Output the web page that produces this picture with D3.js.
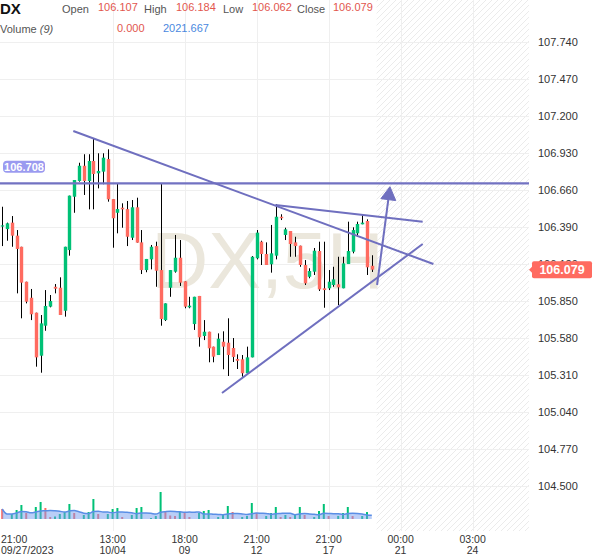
<!DOCTYPE html>
<html>
<head>
<meta charset="utf-8">
<script src="https://cdn.jsdelivr.net/npm/d3@7"></script>
<style>
  body { margin: 0; background: #fff; }
  svg { display: block; font-family: "Liberation Sans", Arial, sans-serif; }
</style>
</head>
<body>
<svg width="600" height="558"></svg>
<script>
// ---- data (5H candles, DX) ----
var symbol = "DX";
var period = "5H";

var opens = [106.397, 106.375, 106.422, 106.327, 106.246, 105.991, 105.874, 105.765, 105.451, 105.670,
  105.809, 105.954, 105.947, 105.779, 106.222, 106.611, 106.726, 106.837, 106.726, 106.872,
  106.782, 106.794, 106.886, 106.594, 106.494, 106.531, 106.521, 106.312, 106.534, 106.278,
  106.076, 106.154, 106.251, 106.076, 105.711, 105.947, 106.064, 106.166, 105.994, 105.804,
  105.682, 105.887, 105.595, 105.626, 105.517, 105.456, 105.553, 105.546, 105.507, 105.427,
  105.425, 105.323, 105.439, 106.162, 106.283, 106.193, 106.118, 106.181, 106.465, 106.332,
  106.361, 106.278, 106.254, 106.113, 106.027, 106.064, 106.215, 105.943, 105.943, 105.967,
  105.972, 105.943, 106.120, 106.210, 106.344, 106.410, 106.434, 106.107];
var highs = [106.538, 106.422, 106.470, 106.368, 106.246, 105.991, 105.938, 105.765, 105.748, 105.930,
  105.894, 105.974, 106.023, 106.246, 106.619, 106.733, 106.859, 106.921, 106.921, 107.037,
  106.928, 106.928, 106.957, 106.594, 106.709, 106.563, 106.580, 106.587, 106.604, 106.368,
  106.157, 106.259, 106.283, 106.704, 105.833, 106.076, 106.332, 106.295, 105.994, 105.881,
  105.881, 105.887, 105.711, 105.626, 105.517, 105.614, 105.629, 105.724, 105.580, 105.461,
  105.456, 105.517, 106.178, 106.368, 106.290, 106.278, 106.405, 106.558, 106.483, 106.385,
  106.361, 106.319, 106.254, 106.149, 106.089, 106.237, 106.283, 106.283, 106.076, 106.100,
  106.173, 106.173, 106.429, 106.388, 106.429, 106.478, 106.446, 106.184];
var lows = [106.251, 106.290, 106.246, 105.906, 105.724, 105.833, 105.711, 105.371, 105.327, 105.633,
  105.804, 105.906, 105.748, 105.736, 106.181, 106.494, 106.721, 106.624, 106.519, 106.519,
  106.672, 106.702, 106.575, 106.239, 106.344, 106.385, 106.251, 106.295, 106.276, 106.047,
  106.060, 106.081, 105.954, 105.670, 105.704, 105.881, 106.057, 105.960, 105.797, 105.797,
  105.639, 105.517, 105.565, 105.403, 105.403, 105.456, 105.352, 105.303, 105.405, 105.354,
  105.298, 105.323, 105.439, 106.154, 106.113, 106.113, 106.057, 106.154, 106.441, 106.295,
  106.173, 106.173, 106.100, 105.967, 106.016, 106.040, 105.923, 105.801, 105.930, 105.954,
  105.821, 105.943, 106.120, 106.198, 106.319, 106.410, 106.040, 106.062];
var closes = [106.402, 106.417, 106.327, 106.230, 105.984, 105.845, 105.753, 105.439, 105.687, 105.814,
  105.850, 105.940, 105.748, 106.246, 106.619, 106.733, 106.837, 106.726, 106.872, 106.777,
  106.799, 106.896, 106.592, 106.454, 106.521, 106.519, 106.319, 106.534, 106.276, 106.076,
  106.157, 106.246, 106.071, 105.719, 105.833, 106.076, 106.166, 105.984, 105.809, 105.816,
  105.881, 105.585, 105.626, 105.505, 105.444, 105.575, 105.517, 105.456, 105.442, 105.414,
  105.323, 105.439, 106.173, 106.349, 106.193, 106.113, 106.198, 106.465, 106.454, 106.373,
  106.266, 106.251, 106.113, 105.979, 106.069, 106.217, 105.935, 105.930, 105.991, 106.008,
  105.950, 106.125, 106.215, 106.368, 106.412, 106.422, 106.096, 106.079];
var volumes = [5350, 0, 2680, 4820, 7490, 3210, 0, 6420, 9100, 5890,
  1070, 1340, 2680, 3750, 8030, 3210, 0, 2140, 3750, 10700,
  2680, 0, 2680, 5350, 5890, 1070, 0, 2140, 5890, 6420,
  0, 540, 1610, 14450, 4280, 1870, 1610, 4010, 3750, 1070,
  0, 3210, 4280, 4820, 0, 1070, 2680, 6960, 3750, 0,
  1070, 1610, 8560, 3210, 0, 1610, 3210, 6420, 1070, 2140,
  1070, 2140, 6420, 2140, 0, 1070, 4280, 8030, 1610, 0,
  1650, 3210, 6420, 1580, 0, 1620, 3715, 0];
var volumePeriod = 9;

var priceTicks = [107.74, 107.47, 107.2, 106.93, 106.66, 106.39, 106.12, 105.85, 105.58, 105.31, 105.04, 104.77, 104.5];
var startLabel = ["21:00", "09/27/2023"];
var timeTicks = [23, 38, 53, 68, 83, 98];
var timeTop = ["13:00", "18:00", "21:00", "21:00", "00:00", "03:00"];
var timeBottom = ["10/04", "09", "12", "17", "21", "24"];

// drawings, in [candle index, price]
var levelPrice = 106.708;
var trendLines = [
  [[14.81, 107.091], [89.83, 106.120]],
  [[56.90, 106.551], [87.60, 106.429]],
  [[45.79, 105.179], [87.60, 106.266]]
];
var arrowLine = [[78.10, 105.967], [80.79, 106.684]];

// ---- layout ----
var svg = d3.select("svg"),
  plotW = 529,
  plotH = 531,
  volBase = 519;

var green = "#00c176", red = "#ff6b60", ink = "#6f6fbf";

var x = d3.scaleLinear().domain([-0.4583, 109.75]).range([0, plotW]);
var y = d3.scaleLinear().domain([104.172, 108.0465]).range([plotH, 0]);
var v = d3.scaleLinear().domain([0, 20000]).range([volBase, volBase - 20000 / 535]);

var candles = closes.map(function(c, i) {
  return {i: i, o: opens[i], h: highs[i], l: lows[i], c: c, vol: volumes[i]};
});

// moving average of volume
var volMA = volumes.map(function(d, i) {
  var s = volumes.slice(Math.max(0, i - volumePeriod + 1), i + 1);
  return d3.mean(s);
});

var defs = svg.append("defs");
var pat = defs.append("pattern")
  .attr("id", "hatch")
  .attr("patternUnits", "userSpaceOnUse")
  .attr("width", 6).attr("height", 6);
pat.append("path")
  .attr("d", "M0,6 L6,0 M-1,1 L1,-1 M5,7 L7,5")
  .attr("stroke", "#ebebeb")
  .attr("stroke-width", 1);

// future zone
svg.append("rect")
  .attr("x", x(closes.length))
  .attr("y", 0)
  .attr("width", plotW - x(closes.length))
  .attr("height", plotH)
  .attr("fill", "url(#hatch)");

// grid
svg.append("g").selectAll("line")
  .data(priceTicks)
  .enter().append("line")
  .attr("x1", 0).attr("x2", plotW)
  .attr("y1", function(d) { return Math.round(y(d)) + 0.5; })
  .attr("y2", function(d) { return Math.round(y(d)) + 0.5; })
  .attr("stroke", "#efefef");

svg.append("g").selectAll("line")
  .data(timeTicks)
  .enter().append("line")
  .attr("x1", function(d) { return Math.round(x(d)) + 0.5; })
  .attr("x2", function(d) { return Math.round(x(d)) + 0.5; })
  .attr("y1", 0).attr("y2", plotH)
  .attr("stroke", "#efefef");

// watermark
svg.append("text")
  .attr("x", plotW / 2 + 3)
  .attr("y", plotH / 2 + 22)
  .attr("text-anchor", "middle")
  .attr("font-size", 79)
  .attr("fill", "#ebe7dc")
  .text(symbol + "," + period);

// volume bars
svg.append("g").selectAll("rect")
  .data(candles.filter(function(d) { return d.vol > 0; }))
  .enter().append("rect")
  .attr("x", function(d) { return x(d.i) - 1; })
  .attr("y", function(d) { return v(d.vol); })
  .attr("width", 2)
  .attr("height", function(d) { return volBase - v(d.vol); })
  .attr("fill", function(d) {
    return d.i > 0 && d.vol > volumes[d.i - 1] ? green : red;
  });

var area = d3.area()
  .x(function(d, i) { return x(i); })
  .y0(volBase)
  .y1(function(d) { return v(d); })
  .curve(d3.curveMonotoneX);

svg.append("path")
  .datum(volMA)
  .attr("d", area)
  .attr("fill", "rgba(118,158,240,0.5)");

svg.append("path")
  .datum(volMA)
  .attr("d", area.lineY1())
  .attr("fill", "none")
  .attr("stroke", "#5a8ee6")
  .attr("stroke-width", 1.5);

// candles
var cg = svg.append("g");
cg.selectAll(".wick")
  .data(candles)
  .enter().append("line")
  .attr("class", "wick")
  .attr("x1", function(d) { return Math.round(x(d.i)) + 0.5; })
  .attr("x2", function(d) { return Math.round(x(d.i)) + 0.5; })
  .attr("y1", function(d) { return y(d.h); })
  .attr("y2", function(d) { return y(d.l); })
  .attr("stroke", "#000")
  .attr("stroke-width", 1);

cg.selectAll(".body")
  .data(candles)
  .enter().append("rect")
  .attr("class", "body")
  .attr("x", function(d) { return Math.round(x(d.i)) - 1.2; })
  .attr("y", function(d) { return y(Math.max(d.o, d.c)); })
  .attr("width", 3.4)
  .attr("height", function(d) { return Math.max(1.2, Math.abs(y(d.o) - y(d.c))); })
  .attr("fill", function(d) { return d.c >= d.o ? green : red; });

// drawings
svg.append("line")
  .attr("x1", 0).attr("x2", plotW)
  .attr("y1", y(levelPrice)).attr("y2", y(levelPrice))
  .attr("stroke", "#7272c2")
  .attr("stroke-width", 2.2);

svg.append("g").selectAll("line")
  .data(trendLines)
  .enter().append("line")
  .attr("x1", function(d) { return x(d[0][0]); })
  .attr("y1", function(d) { return y(d[0][1]); })
  .attr("x2", function(d) { return x(d[1][0]); })
  .attr("y2", function(d) { return y(d[1][1]); })
  .attr("stroke", ink)
  .attr("stroke-width", 2);

var ax0 = x(arrowLine[0][0]), ay0 = y(arrowLine[0][1]),
  ax1 = x(arrowLine[1][0]), ay1 = y(arrowLine[1][1]);
var len = Math.sqrt((ax1 - ax0) * (ax1 - ax0) + (ay1 - ay0) * (ay1 - ay0)),
  ux = (ax1 - ax0) / len, uy = (ay1 - ay0) / len,
  bx = ax1 - ux * 13, by = ay1 - uy * 13;

svg.append("line")
  .attr("x1", ax0).attr("y1", ay0)
  .attr("x2", bx).attr("y2", by)
  .attr("stroke", ink)
  .attr("stroke-width", 2);

svg.append("path")
  .attr("d", "M" + ax1 + "," + ay1 +
    "L" + (bx - uy * 7.5) + "," + (by + ux * 7.5) +
    "L" + (bx + uy * 7.5) + "," + (by - ux * 7.5) + "Z")
  .attr("fill", ink)
  .attr("stroke", ink)
  .attr("stroke-linejoin", "round");

// level tag
svg.append("rect")
  .attr("x", 3).attr("y", y(levelPrice) - 22.6)
  .attr("width", 42).attr("height", 12)
  .attr("rx", 4)
  .attr("fill", "#9a9af0");
svg.append("text")
  .attr("x", 24).attr("y", y(levelPrice) - 12.6)
  .attr("text-anchor", "middle")
  .attr("font-size", 11)
  .attr("font-weight", "bold")
  .attr("fill", "#fff")
  .text(levelPrice.toFixed(3));

// price axis (the tick under the last-price tag stays hidden by it, as in the source)
svg.append("g").selectAll("text")
  .data(priceTicks)
  .enter().append("text")
  .attr("x", 538)
  .attr("y", function(d) { return y(d) + 4; })
  .attr("font-size", 11)
  .attr("fill", "#333")
  .text(function(d) { return d.toFixed(3); });

// last price tag
var last = candles[candles.length - 1];
var ly = y(last.c);
svg.append("path")
  .attr("d", "M529," + ly + "L533," + (ly - 4) + "L533," + (ly + 4) + "Z")
  .attr("fill", red);
svg.append("rect")
  .attr("x", 532).attr("y", ly - 8.5)
  .attr("width", 60).attr("height", 17)
  .attr("rx", 2)
  .attr("fill", red);
svg.append("text")
  .attr("x", 562).attr("y", ly + 4.5)
  .attr("text-anchor", "middle")
  .attr("font-size", 12.5)
  .attr("font-weight", "bold")
  .attr("fill", "#fff")
  .text(last.c.toFixed(3));

// time axis
var tg = svg.append("g").attr("font-size", 10.5).attr("fill", "#333");
tg.append("text").attr("x", 1).attr("y", 542.5).text(startLabel[0]);
tg.append("text").attr("x", 1).attr("y", 553.5).text(startLabel[1]);
tg.selectAll(".t1")
  .data(timeTicks)
  .enter().append("text")
  .attr("x", function(d) { return x(d); })
  .attr("y", 542.5)
  .attr("text-anchor", "middle")
  .text(function(d, i) { return timeTop[i]; });
tg.selectAll(".t2")
  .data(timeTicks)
  .enter().append("text")
  .attr("x", function(d) { return x(d); })
  .attr("y", 553.5)
  .attr("text-anchor", "middle")
  .text(function(d, i) { return timeBottom[i]; });

// header
var hd = svg.append("g").attr("font-size", 11);
hd.append("text").attr("x", 0).attr("y", 14)
  .attr("font-size", 15).attr("font-weight", "bold").attr("fill", "#111")
  .text(symbol);
var ohlc = [["Open", last.o, 62, 98], ["High", last.h, 144, 176], ["Low", last.l, 223, 252], ["Close", last.c, 297, 333]];
ohlc.forEach(function(d) {
  hd.append("text").attr("x", d[2]).attr("y", 13).attr("fill", "#555").text(d[0]);
  hd.append("text").attr("x", d[3]).attr("y", 11).attr("fill", "#e2564e").text(d[1].toFixed(3));
});
var volLbl = hd.append("text").attr("x", 0).attr("y", 33).attr("fill", "#555");
volLbl.append("tspan").text("Volume ");
volLbl.append("tspan").attr("font-style", "italic").text("(" + volumePeriod + ")");
hd.append("text").attr("x", 117).attr("y", 32).attr("fill", "#e2564e")
  .text(last.vol.toFixed(3));
hd.append("text").attr("x", 163).attr("y", 32).attr("fill", "#4a88e0")
  .text(volMA[volMA.length - 1].toFixed(3));
</script>
</body>
</html>
